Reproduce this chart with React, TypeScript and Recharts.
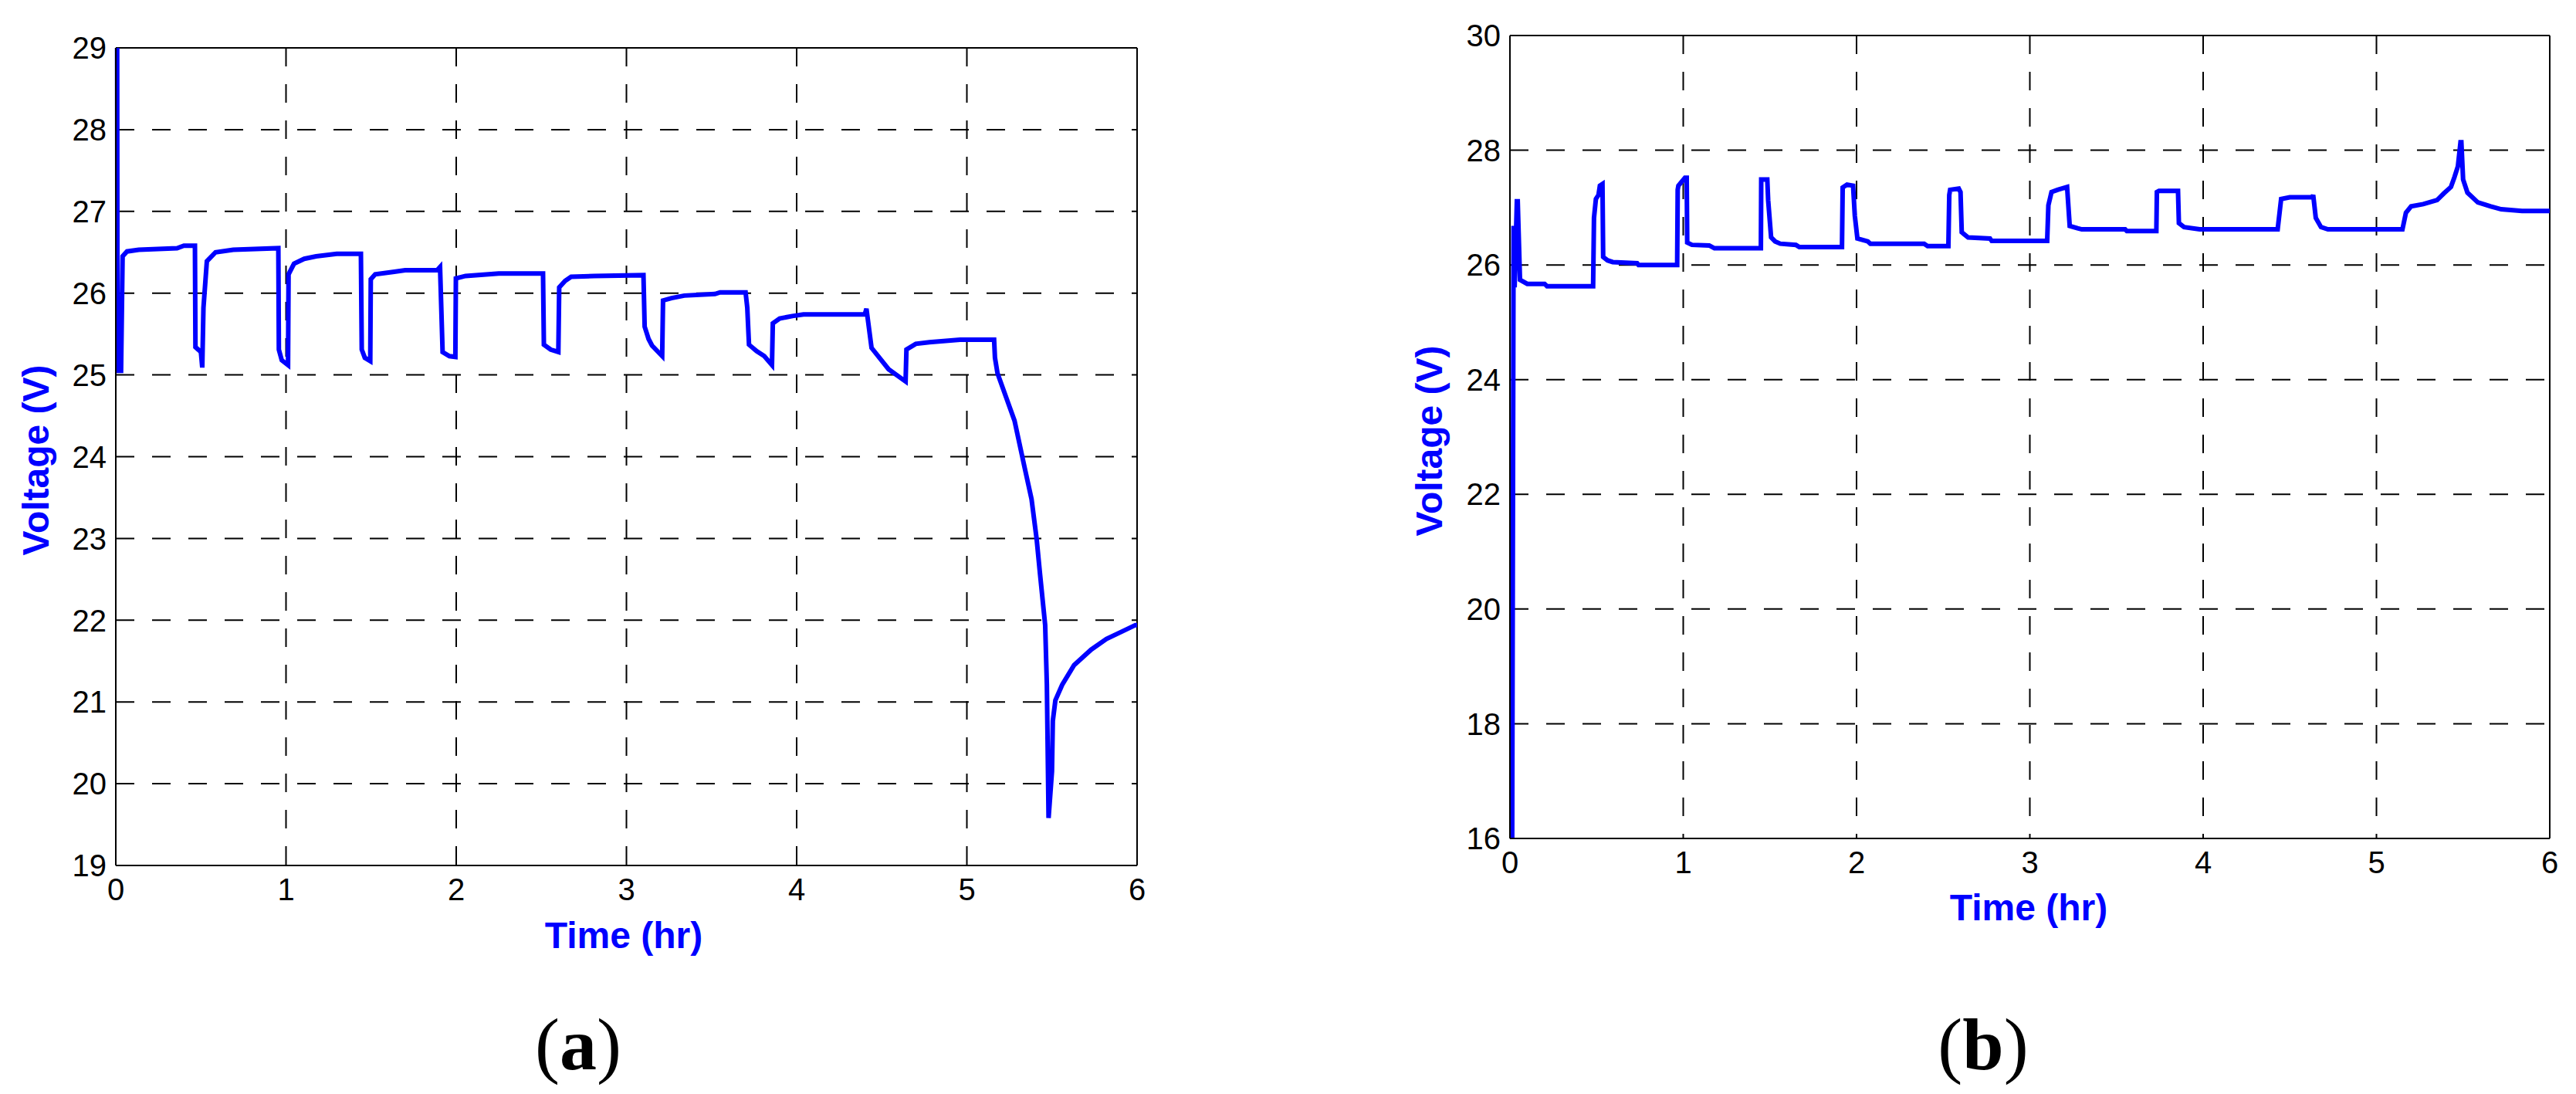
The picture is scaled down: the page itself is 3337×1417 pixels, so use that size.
import React from 'react';
import { LineChart, Line, XAxis, YAxis, CartesianGrid, ReferenceLine } from 'recharts';

// ---- Panel (a) ----
const timeA = [
  0.008, 0.01, 0.031, 0.04, 0.066, 0.135, 0.36, 0.4, 0.465, 0.468, 0.5, 0.508, 0.515, 0.535, 0.586, 0.69,
  0.955, 0.958, 0.975, 1.012, 1.015, 1.047, 1.107, 1.177, 1.298, 1.44, 1.445, 1.463, 1.495, 1.498, 1.524,
  1.628, 1.7, 1.888, 1.905, 1.92, 1.96, 1.995, 1.998, 2.055, 2.19, 2.25, 2.51, 2.515, 2.555, 2.6, 2.605,
  2.64, 2.675, 2.81, 3.1, 3.107, 3.13, 3.15, 3.21, 3.215, 3.265, 3.34, 3.52, 3.55, 3.7, 3.71, 3.72, 3.765,
  3.81, 3.855, 3.86, 3.9, 3.975, 4.04, 4.4, 4.41, 4.44, 4.54, 4.64, 4.645, 4.7, 4.78, 4.96, 5.16, 5.165,
  5.18, 5.23, 5.28, 5.31, 5.34, 5.38, 5.41, 5.43, 5.46, 5.47, 5.48, 5.5, 5.505, 5.52, 5.56, 5.63, 5.73,
  5.82, 5.91, 5.99, 6.0,
];
const voltageA = [
  29.0, 25.05, 25.05, 26.45, 26.51, 26.53, 26.55, 26.58, 26.58, 25.34, 25.28, 25.09, 25.82, 26.39, 26.5, 26.53,
  26.55, 25.31, 25.18, 25.12, 26.23, 26.36, 26.42, 26.45, 26.48, 26.48, 25.31, 25.21, 25.17, 26.17, 26.23,
  26.26, 26.28, 26.28, 26.32, 25.28, 25.23, 25.22, 26.18, 26.21, 26.23, 26.24, 26.24, 25.37, 25.31, 25.28, 26.07,
  26.15, 26.2, 26.21, 26.22, 25.59, 25.44, 25.36, 25.23, 25.91, 25.94, 25.97, 25.99, 26.01, 26.01, 25.82, 25.37, 25.29,
  25.23, 25.12, 25.63, 25.69, 25.72, 25.74, 25.74, 25.81, 25.33, 25.07, 24.92, 25.31, 25.38, 25.4, 25.43, 25.43, 25.21,
  25.02, 24.73, 24.44, 24.15, 23.86, 23.48, 22.99, 22.56, 21.94, 21.21, 19.58, 20.15, 20.77, 21.02, 21.21, 21.45, 21.64,
  21.77, 21.86, 21.94, 21.94,
];

// ---- Panel (b) ----
const timeB = [
  0.013, 0.021, 0.027, 0.04, 0.045, 0.058, 0.1, 0.2, 0.214, 0.48, 0.485, 0.496, 0.511, 0.519, 0.534, 0.538,
  0.563, 0.593, 0.734, 0.742, 0.965, 0.968, 0.972, 1.01, 1.02, 1.023, 1.05, 1.15, 1.18, 1.448, 1.45, 1.485,
  1.49, 1.507, 1.53, 1.56, 1.65, 1.67, 1.916, 1.92, 1.945, 1.98, 1.99, 2.005, 2.065, 2.08, 2.39, 2.41, 2.53,
  2.535, 2.54, 2.59, 2.6, 2.607, 2.644, 2.77, 2.78, 3.1, 3.107, 3.125, 3.16, 3.215, 3.23, 3.275, 3.3, 3.55,
  3.56, 3.73, 3.733, 3.745, 3.855, 3.86, 3.89, 3.98, 4.43, 4.45, 4.5, 4.63, 4.635, 4.65, 4.68, 4.72, 5.15,
  5.17, 5.2, 5.27, 5.35, 5.39, 5.43, 5.45, 5.47, 5.485, 5.49, 5.5, 5.525, 5.585, 5.66, 5.72, 5.84, 6.0,
];
const voltageB = [
  16.0, 26.68, 25.61, 27.11, 27.11, 25.74, 25.67, 25.67, 25.63, 25.63, 26.82, 27.15, 27.22, 27.38, 27.41, 26.14,
  26.08, 26.05, 26.03, 26.0, 26.0, 27.31, 27.38, 27.52, 27.52, 26.39, 26.35, 26.34, 26.29, 26.29, 27.49, 27.49,
  27.13, 26.48, 26.41, 26.37, 26.35, 26.31, 26.31, 27.35, 27.4, 27.38, 26.86, 26.46, 26.41, 26.37, 26.37, 26.33, 26.33,
  27.22, 27.31, 27.33, 27.27, 26.57, 26.48, 26.46, 26.42, 26.42, 27.04, 27.27, 27.31, 27.36, 26.68, 26.64, 26.62, 26.62,
  26.59, 26.59, 27.27, 27.29, 27.29, 26.73, 26.66, 26.62, 26.62, 27.15, 27.18, 27.18, 27.22, 26.82, 26.66, 26.62, 26.62,
  26.91, 27.02, 27.06, 27.13, 27.25, 27.36, 27.53, 27.72, 28.14, 28.14, 27.49, 27.26, 27.09, 27.02, 26.97, 26.94, 26.94,
];

const timeTicks = [0, 1, 2, 3, 4, 5, 6];
const voltTicksA = [19, 20, 21, 22, 23, 24, 25, 26, 27, 28, 29];
const voltTicksB = [16, 18, 20, 22, 24, 26, 28, 30];

const dataA = timeA.map((t, i) => ({ t, v: voltageA[i] }));
const dataB = timeB.map((t, i) => ({ t, v: voltageB[i] }));

const TICK = { fontSize: 40, fill: '#000', fontFamily: '"Liberation Sans", Arial, sans-serif' };
const AXIS_LINE = { stroke: '#000', strokeWidth: 2 };
const TITLE_FONT = '"Liberation Sans", Arial, sans-serif';
const BLUE = '#0000ff';

function Panel(props: {
  data: { t: number; v: number }[];
  width: number;
  height: number;
  margin: { top: number; right: number; bottom: number; left: number };
  yDomain: [number, number];
  yTicks: number[];
}) {
  const { data, width, height, margin, yDomain, yTicks } = props;
  return (
    <LineChart width={width} height={height} data={data} margin={margin}>
      <CartesianGrid stroke="#000" strokeWidth={2} strokeDasharray="24 23" />
      <XAxis
        type="number"
        dataKey="t"
        domain={[0, 6]}
        ticks={timeTicks}
        tick={TICK}
        tickLine={false}
        tickSize={0}
        tickMargin={17}
        height={60}
        axisLine={AXIS_LINE}
        interval={0}
      />
      <YAxis
        type="number"
        domain={yDomain}
        ticks={yTicks}
        tick={TICK}
        tickLine={false}
        tickSize={0}
        tickMargin={12}
        width={100}
        axisLine={AXIS_LINE}
        interval={0}
      />
      <ReferenceLine y={yDomain[1]} stroke="#000" strokeWidth={2} />
      <ReferenceLine x={6} stroke="#000" strokeWidth={2} />
      <Line
        type="linear"
        dataKey="v"
        stroke={BLUE}
        strokeWidth={6}
        dot={false}
        activeDot={false}
        isAnimationActive={false}
        strokeLinejoin="miter"
      />
    </LineChart>
  );
}

export default function App() {
  return (
    <div style={{ position: 'absolute', left: 0, top: 0, width: 3337, height: 1417, background: '#fff', overflow: 'hidden' }}>
      <div style={{ position: 'absolute', left: 0, top: 0 }}>
        <Panel
          data={dataA}
          width={1500}
          height={1417}
          margin={{ top: 62, right: 27, bottom: 236, left: 50 }}
          yDomain={[19, 29]}
          yTicks={voltTicksA}
        />
      </div>
      <div style={{ position: 'absolute', left: 1800, top: 0 }}>
        <Panel
          data={dataB}
          width={1537}
          height={1417}
          margin={{ top: 46, right: 34, bottom: 271, left: 56 }}
          yDomain={[16, 30]}
          yTicks={voltTicksB}
        />
      </div>
      <svg
        width={3337}
        height={1417}
        style={{ position: 'absolute', left: 0, top: 0, pointerEvents: 'none' }}
      >
        <text x={808} y={1228} textAnchor="middle" fontFamily={TITLE_FONT} fontWeight="bold" fontSize={48} fill={BLUE}>
          Time (hr)
        </text>
        <text x={2628} y={1192} textAnchor="middle" fontFamily={TITLE_FONT} fontWeight="bold" fontSize={48} fill={BLUE}>
          Time (hr)
        </text>
        <text transform="translate(63,596) rotate(-90)" textAnchor="middle" fontFamily={TITLE_FONT} fontWeight="bold" fontSize={48} fill={BLUE}>
          Voltage (V)
        </text>
        <text transform="translate(1868,571) rotate(-90)" textAnchor="middle" fontFamily={TITLE_FONT} fontWeight="bold" fontSize={48} fill={BLUE}>
          Voltage (V)
        </text>
        <text x={749} y={1385} textAnchor="middle" fontFamily='"Liberation Serif", "Times New Roman", serif' fontSize={96} fill="#000">
          (<tspan fontWeight="bold">a</tspan>)
        </text>
        <text x={2569} y={1385} textAnchor="middle" fontFamily='"Liberation Serif", "Times New Roman", serif' fontSize={96} fill="#000">
          (<tspan fontWeight="bold">b</tspan>)
        </text>
      </svg>
    </div>
  );
}
